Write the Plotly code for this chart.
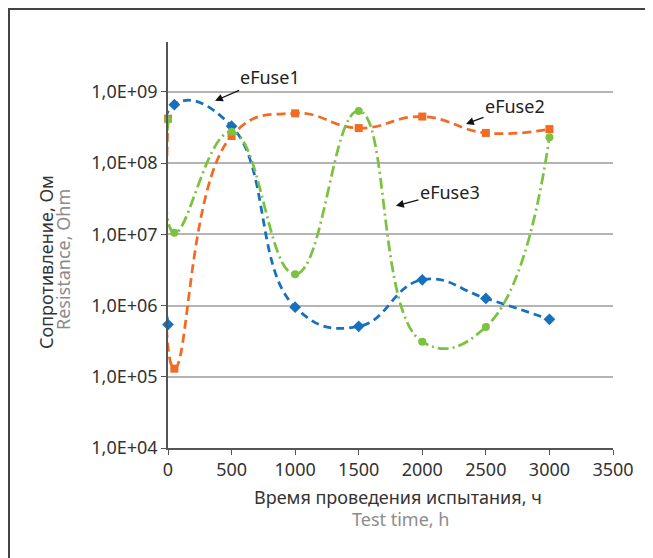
import math
import plotly.graph_objects as go

hours = [0, 50, 500, 1000, 1500, 2000, 2500, 3000]
efuse1 = [5.4e5, 6.6e8, 3.3e8, 9.5e5, 5.1e5, 2.3e6, 1.26e6, 6.4e5]
efuse2 = [4.2e8, 1.3e5, 2.4e8, 5.0e8, 3.1e8, 4.5e8, 2.65e8, 3.0e8]
efuse3 = [4.1e8, 1.05e7, 2.75e8, 2.75e6, 5.4e8, 3.1e5, 5.0e5, 2.3e8]

y_tickvals = [1e4, 1e5, 1e6, 1e7, 1e8, 1e9]
y_ticktext = ["1,0E+04", "1,0E+05", "1,0E+06", "1,0E+07", "1,0E+08", "1,0E+09"]
x_tickvals = [0, 500, 1000, 1500, 2000, 2500, 3000, 3500]

BLUE = "#1770bd"
ORANGE = "#f26a24"
GREEN = "#7cc242"
FONT = "Noto Sans"
FS = 18

# plot area in figure pixels (page body adds an 8px offset)
L, R, T, B = 160, 605, 34, 440
PW, PH = R - L, B - T

fig = go.Figure()
fig.add_trace(go.Scatter(
    x=hours, y=efuse2, name="eFuse2", mode="lines+markers",
    line=dict(color=ORANGE, width=2.75, dash="9px,5px", shape="spline", smoothing=1.3),
    marker=dict(symbol="square", size=8, color=ORANGE), cliponaxis=False))
fig.add_trace(go.Scatter(
    x=hours, y=efuse1, name="eFuse1", mode="lines+markers",
    line=dict(color=BLUE, width=2.75, dash="8px,5px", shape="spline", smoothing=1.3),
    marker=dict(symbol="diamond", size=9, color=BLUE), cliponaxis=False))
fig.add_trace(go.Scatter(
    x=hours, y=efuse3, name="eFuse3", mode="lines+markers",
    line=dict(color=GREEN, width=2.75, dash="11px,4px,2px,4px", shape="spline", smoothing=1.3),
    marker=dict(symbol="circle", size=8, color=GREEN), cliponaxis=False))

fig.update_layout(
    width=653, height=558,
    margin=dict(l=L, r=653 - R, t=T, b=558 - B),
    paper_bgcolor="white", plot_bgcolor="white",
    showlegend=False,
    font=dict(family=FONT, size=FS, color="#333333"),
    xaxis=dict(range=[0, 3500], tickvals=x_tickvals, showgrid=False,
               showline=True, linecolor="#555555", linewidth=1.5,
               ticks="outside", ticklen=5, tickcolor="#555555",
               tickfont=dict(size=FS, color="#333333"), zeroline=False),
    yaxis=dict(type="log", range=[4, 9.7], tickvals=y_tickvals, ticktext=y_ticktext,
               showgrid=True, gridcolor="#b4b4b4", gridwidth=1.5,
               showline=True, linecolor="#555555", linewidth=1.5,
               ticks="outside", ticklen=5, tickcolor="#555555",
               tickfont=dict(size=FS, color="#333333"), zeroline=False),
)

# outer frame (cropped on right and bottom)
fig.add_shape(type="rect", xref="paper", yref="paper",
              x0=(1 - L) / PW, x1=1.2, y0=-0.4, y1=1 + (T - 1) / PH,
              line=dict(color="#444444", width=2), fillcolor="rgba(0,0,0,0)")

def px(xs, ys):
    return (xs - 8 - L) / PW, (B - (ys - 8)) / PH

# axis titles (positions given in screen pixels of the reference)
for txt, sx, sy, col, ang in [
        ("Время проведения испытания, ч", 398, 497, "#333333", 0),
        ("Test time, h", 400, 519, "#8c8c8c", 0),
        ("Сопротивление, Ом", 46, 262, "#333333", -90),
        ("Resistance, Ohm", 63, 260, "#8c8c8c", -90)]:
    ax_, ay_ = px(sx, sy)
    fig.add_annotation(xref="paper", yref="paper", x=ax_, y=ay_, text=txt,
                       showarrow=False, textangle=ang,
                       font=dict(size=FS, color=col), xanchor="center", yanchor="middle")

# series labels with arrows
labels = [("eFuse1", 370, 10 ** 8.874, 55, -24),
          ("eFuse2", 2344, 10 ** 8.55, 49, -18),
          ("eFuse3", 1793, 10 ** 7.40, 54, -14)]
for txt, xa, ya, ax, ay in labels:
    fig.add_annotation(x=xa, y=math.log10(ya),
                       text=txt, showarrow=True, arrowhead=2, arrowsize=1.2,
                       arrowwidth=1.3, arrowcolor="#111111", ax=ax, ay=ay,
                       font=dict(size=FS, color="#222222"))

fig.write_html("out.html")
